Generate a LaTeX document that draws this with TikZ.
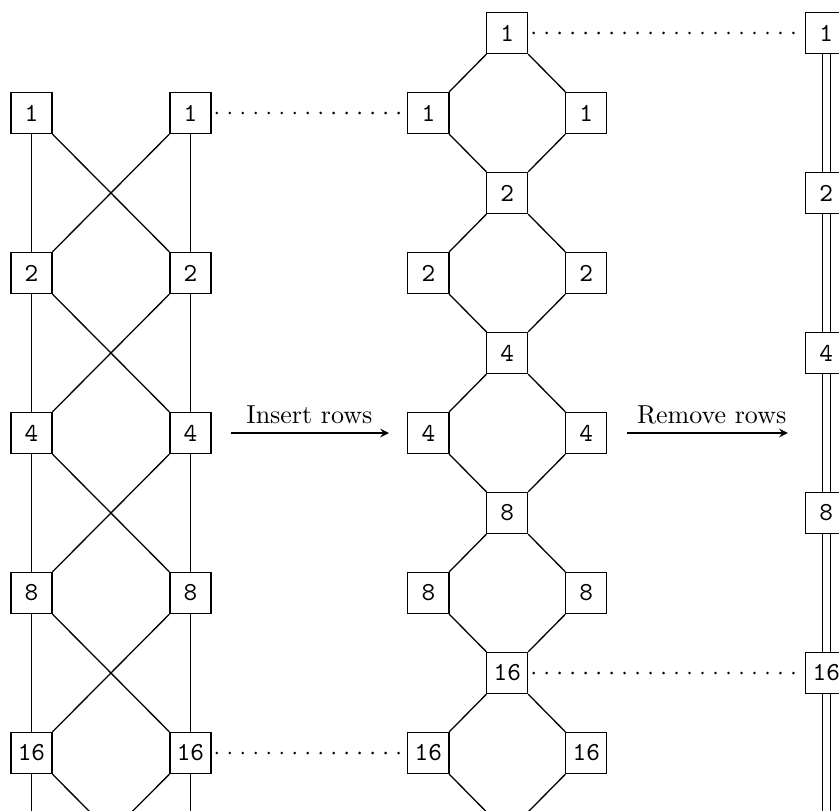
\documentclass[tikz,border=0pt]{standalone}
\usepackage{tikz}
\usetikzlibrary{arrows}
\usetikzlibrary{positioning}

\begin{document}
\begin{tikzpicture}[line width=0.5pt, >=stealth, on grid, node distance=61.6pt,
    cell/.style={draw, minimum size=15.8pt, inner sep=0pt, font=\ttfamily},
    link/.style={line width=1.1pt, line cap=round, dash pattern=on 0pt off 5pt,
        shorten <=2pt, shorten >=2pt},
    wide/.style={double, double distance=2.6pt}]

    \clip (0,0) rectangle (323pt,-312.2pt);

    % Butterfly

    \node[cell]                (a1)  at (12.1pt,-43.5pt) {1}; %
    \node[cell, right=61.2pt of a1] (b1)  {1}; %
    \node[cell, below=of a1]   (a2)  {2}; %
    \node[cell, below=of b1]   (b2)  {2}; %
    \node[cell, below=of a2]   (a4)  {4}; %
    \node[cell, below=of b2]   (b4)  {4}; %
    \node[cell, below=of a4]   (a8)  {8}; %
    \node[cell, below=of b4]   (b8)  {8}; %
    \node[cell, below=of a8]   (a16) {16}; %
    \node[cell, below=of b8]   (b16) {16}; %
    \coordinate[below=of a16]  (a32); %
    \coordinate[below=of b16]  (b32); %

    \draw (a1) -- (a2) -- (a4) -- (a8) -- (a16) -- (a32);
    \draw (b1) -- (b2) -- (b4) -- (b8) -- (b16) -- (b32);
    \draw (a1) -- (b2) -- (a4) -- (b8) -- (a16) -- (b32);
    \draw (b1) -- (a2) -- (b4) -- (a8) -- (b16) -- (a32);

    % Octagons

    \node[cell, above right=30.8pt and 122pt of b1] (c1) {1}; %
    \node[cell, below left=30.8pt and 30.4pt of c1]  (cl1) {1}; %
    \node[cell, below right=30.8pt and 30.4pt of c1] (cr1) {1}; %
    \node[cell, below=of c1]   (c2)   {2}; %
    \node[cell, below=of cl1]  (cl2)  {2}; %
    \node[cell, below=of cr1]  (cr2)  {2}; %
    \node[cell, below=of c2]   (c4)   {4}; %
    \node[cell, below=of cl2]  (cl4)  {4}; %
    \node[cell, below=of cr2]  (cr4)  {4}; %
    \node[cell, below=of c4]   (c8)   {8}; %
    \node[cell, below=of cl4]  (cl8)  {8}; %
    \node[cell, below=of cr4]  (cr8)  {8}; %
    \node[cell, below=of c8]   (c16)  {16}; %
    \node[cell, below=of cl8]  (cl16) {16}; %
    \node[cell, below=of cr8]  (cr16) {16}; %
    \coordinate[below=of c16]  (c32); %

    \draw (c1) -- (cl1) -- (c2) -- (cl2) -- (c4) -- (cl4) -- (c8) -- (cl8) -- (c16) -- (cl16) -- (c32);
    \draw (c1) -- (cr1) -- (c2) -- (cr2) -- (c4) -- (cr4) -- (c8) -- (cr8) -- (c16) -- (cr16) -- (c32);

    % Reduced column
    \node[cell, right=122.8pt of c1] (d1)  {1}; %
    \node[cell, below=of d1]   (d2)  {2}; %
    \node[cell, below=of d2]   (d4)  {4}; %
    \node[cell, below=of d4]   (d8)  {8}; %
    \node[cell, below=of d8]   (d16) {16}; %
    \coordinate[below=of d16]  (d32); %
    \coordinate (dgap) at (cr4 -| d4); %

    \draw[wide] (d1) -- (d2) -- (d4) -- (d8) -- (d16) -- (d32);

    \draw[link] (b1) -- (cl1);
    \draw[link] (b16) -- (cl16);
    \draw[link] (c1) -- (d1);
    \draw[link] (c16) -- (d16);

    \draw[->, shorten <=7.3pt, shorten >=7pt] (b4) -- node[above] {Insert rows} (cl4);
    \draw[->, shorten <=7.7pt, shorten >=14.8pt] (cr4) -- node[above, xshift=-2pt] {Remove rows} (dgap);

\end{tikzpicture}
\end{document}
